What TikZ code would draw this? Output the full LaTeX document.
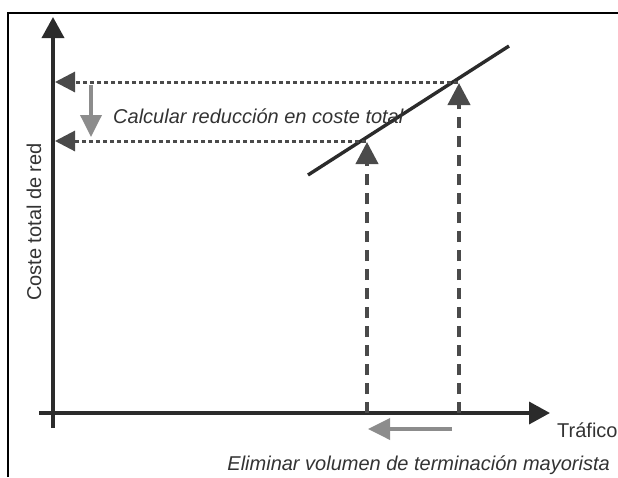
\documentclass[tikz,border=0pt]{standalone}
\usepackage{fontspec}
\setmainfont{Liberation Sans}
\usetikzlibrary{arrows.meta}
\definecolor{axisc}{HTML}{2B2B2B}
\definecolor{darkg}{HTML}{4A4A4A}
\definecolor{lightg}{HTML}{8C8C8C}
\definecolor{txt}{HTML}{333333}
\begin{document}
\begin{tikzpicture}[x=1pt,y=-1pt,
  frame/.style={draw=black, line width=2.8pt},
  axis/.style={draw=axisc, line width=3.6pt, -{Triangle[length=21pt,width=22pt]}},
  curve/.style={draw=axisc, line width=3.4pt},
  dotline/.style={draw=darkg, line width=3pt, dash pattern=on 4pt off 3pt, -{Triangle[length=20pt,width=20pt]}},
  dashline/.style={draw=darkg, line width=4pt, dash pattern=on 11pt off 8pt, -{Triangle[length=22pt,width=22pt]}},
  greyarrow/.style={draw=lightg, line width=3.6pt, -{Triangle[length=22pt,width=21pt]}},
  lbl/.style={text=txt, font=\fontsize{20pt}{24pt}\selectfont, inner sep=0pt},
]
\useasboundingbox (0,0) rectangle (618,477);
% frame
\coordinate (fbl) at (8,477);
\coordinate (ftl) at (8,13);
\coordinate (ftr) at (618,13);
\draw[frame] (fbl) -- (ftl) -- (ftr);
% axes
\coordinate (yb) at (53,428);
\coordinate (yt) at (53,17);
\coordinate (xl) at (39,413);
\coordinate (xr) at (550,413);
\draw[axis] (yb) -- (yt);
\draw[axis] (xl) -- (xr);
% cost line
\coordinate (c1) at (308,175);
\coordinate (c2) at (509,46);
\draw[curve] (c1) -- (c2);
% dotted horizontal arrows
\coordinate (d1s) at (458,82);
\coordinate (d1e) at (55,82);
\coordinate (d2s) at (366,141);
\coordinate (d2e) at (55,141);
\draw[dotline] (d1s) -- (d1e);
\draw[dotline] (d2s) -- (d2e);
% dashed vertical arrows
\coordinate (v1s) at (367,413);
\coordinate (v1e) at (367,142);
\coordinate (v2s) at (459,413);
\coordinate (v2e) at (459,83);
\draw[dashline] (v1s) -- (v1e);
\draw[dashline] (v2s) -- (v2e);
% grey arrows
\coordinate (g1s) at (91,85);
\coordinate (g1e) at (91,137);
\draw[greyarrow] (g1s) -- (g1e);
\coordinate (g2s) at (452,429);
\coordinate (g2e) at (368,429);
\draw[greyarrow] (g2s) -- (g2e);
% labels
\node[lbl, anchor=base west, font=\fontsize{20pt}{24pt}\selectfont\itshape] (calc) at (113,123) {Calcular reducción en coste total};
\node[lbl, anchor=base west] (traf) at (557,437) {Tráfico};
\node[lbl, anchor=base east, font=\fontsize{20pt}{24pt}\selectfont\itshape] (elim) at (610,470) {Eliminar volumen de terminación mayorista};
\node[lbl, anchor=base, rotate=90] (coste) at (41,222) {Coste total de red};
\end{tikzpicture}
\end{document}
